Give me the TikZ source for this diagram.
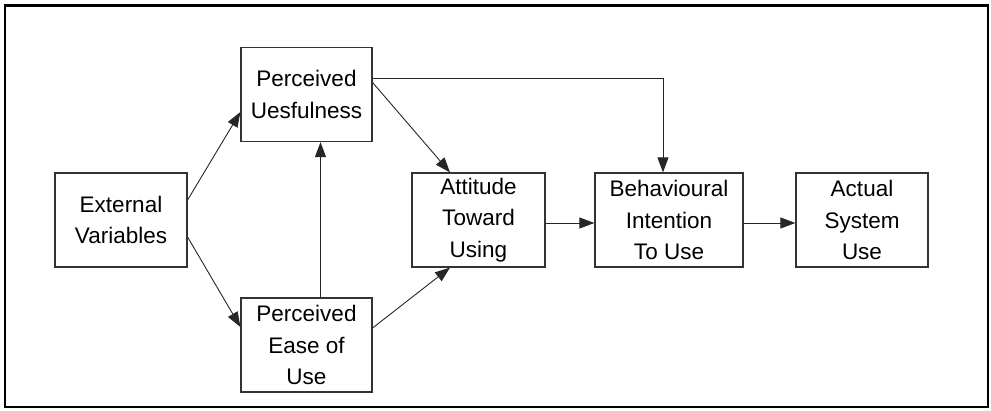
\documentclass[tikz,border=0pt]{standalone}
\usepackage{fontspec}
\setmainfont{Liberation Sans}
\usetikzlibrary{arrows.meta}
\tikzset{var/.style={rectangle,draw=black!80, line width=1.2pt, fill=white, align=center, inner sep=0pt,
  minimum height=94pt, font=\fontsize{22.5}{31.5}\selectfont}}
\tikzset{link/.style={draw=black!85, line width=0.9pt, -{Triangle[length=15pt,width=11pt]}}}

\begin{document}
\begin{tikzpicture}[x=1pt,y=-1pt]
\useasboundingbox (0,0) rectangle (991,410);
\draw[line width=2.5pt] (5,5.5) rectangle (988,407);
\node (ext) at (121,220) [var, minimum width=132pt] {External\\Variables};
\node (pu) at (306.5,94.5) [var, minimum width=131pt] {Perceived\\Uesfulness};
\node (peou) at (306.5,345) [var, minimum width=131pt] {Perceived\\Ease of\\Use};
\node (att) at (478.5,220) [var, minimum width=133pt] {Attitude\\Toward\\Using};
\node (bi) at (669,220) [var, minimum width=148pt] {Behavioural\\Intention\\To Use};
\node (use) at (862,220) [var, minimum width=132pt] {Actual\\System\\Use};
\coordinate (turn) at (663,78);
\draw[link] ([yshift=20pt]ext.east) -- ([yshift=-17.5pt]pu.west);
\draw[link] ([yshift=-17pt]ext.east) -- ([yshift=18pt]peou.west);
\draw[link] ([xshift=14pt]peou.north) -- ([xshift=14pt]pu.south);
\draw[link] ([yshift=12pt]pu.east) -- ([xshift=-28.5pt]att.north);
\draw[link] ([yshift=17pt]peou.east) -- ([xshift=-28.5pt]att.south);
\draw[link] ([yshift=16.5pt]pu.east) -- (turn) -- (turn |- bi.north);
\draw[link] ([yshift=-3pt]att.east) -- ([yshift=-3pt]bi.west);
\draw[link] ([yshift=-3pt]bi.east) -- ([yshift=-3pt]use.west);
\end{tikzpicture}
\end{document}
